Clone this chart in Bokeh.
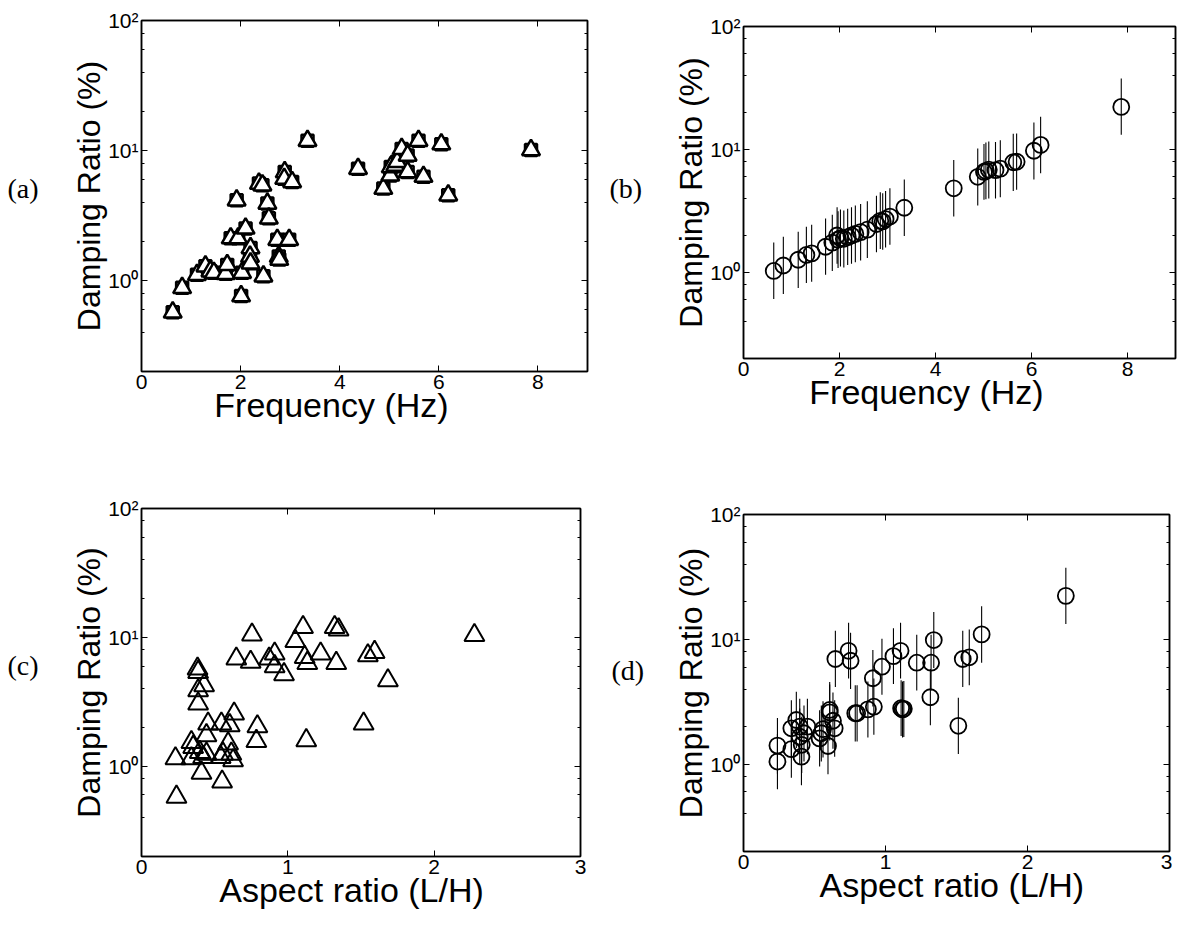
from bokeh.plotting import figure
from bokeh.models import (LinearAxis, LogAxis, FixedTicker, LogTicker,
                          CustomJSTickFormatter, Label, Range1d)
from bokeh.layouts import row, column
from bokeh.embed import file_html
from bokeh.resources import INLINE

# ---------------- data ----------------
# (a) measured damping vs frequency
freq_a = [0.63, 0.82, 1.12, 1.29, 1.39, 1.46, 1.70, 1.73, 1.80, 1.92,
          1.95, 2.03, 2.01, 2.10, 2.20, 2.19, 2.20, 2.37, 2.44, 2.46,
          2.54, 2.57, 2.74, 2.77, 2.78, 2.89, 2.88, 2.98, 3.04, 3.35,
          4.37, 4.88, 5.02, 5.03, 5.12, 5.16, 5.25, 5.37, 5.37, 5.59,
          5.69, 6.05, 6.19, 7.86]
damp_a = [0.57, 0.88, 1.11, 1.29, 1.18, 1.15, 1.13, 1.32, 2.12, 4.15,
          2.12, 1.15, 0.76, 2.52, 1.78, 1.53, 1.36, 5.57, 5.41, 1.08,
          3.92, 3.01, 2.06, 1.53, 1.45, 6.83, 6.08, 2.06, 5.73, 11.9,
          7.25, 5.10, 6.44, 7.46, 7.68, 8.2, 10.3, 9.16, 6.83, 11.9,
          6.3, 11.2, 4.53, 10.1]

# (b) fitted damping vs frequency with error bars
freq_b = [0.63, 0.83, 1.14, 1.31, 1.42, 1.71, 1.85, 1.95, 1.97, 2.02,
          2.09, 2.17, 2.25, 2.33, 2.44, 2.58, 2.77, 2.85, 2.90, 2.96,
          3.05, 3.35, 4.38, 4.88, 5.01, 5.05, 5.11, 5.25, 5.35, 5.62,
          5.69, 6.05, 6.19, 7.87]
damp_b = [1.03, 1.14, 1.27, 1.39, 1.43, 1.62, 1.75, 2.00, 1.85, 1.90,
          1.88, 1.94, 2.00, 2.06, 2.13, 2.23, 2.48, 2.63, 2.60, 2.72,
          2.85, 3.36, 4.84, 6.00, 6.57, 6.70, 6.85, 6.80, 6.98, 7.88,
          7.95, 9.77, 10.9, 22.2]
lo_b = [0.61, 0.67, 0.75, 0.82, 0.84, 0.96, 1.03, 1.18, 1.09, 1.12,
        1.10, 1.15, 1.18, 1.21, 1.25, 1.31, 1.46, 1.55, 1.53, 1.60,
        1.68, 1.98, 2.85, 3.50, 3.90, 3.95, 4.00, 4.00, 4.10, 4.60,
        4.70, 5.70, 6.40, 13.2]
hi_b = [1.75, 1.95, 2.15, 2.35, 2.45, 2.75, 2.95, 3.40, 3.15, 3.25,
        3.20, 3.30, 3.40, 3.50, 3.60, 3.80, 4.20, 4.50, 4.40, 4.60,
        4.85, 5.70, 8.20, 10.2, 11.1, 11.4, 11.6, 11.5, 11.9, 13.4,
        13.5, 16.6, 18.5, 37.8]

# (c) measured damping vs aspect ratio
ar_c = [0.239, 0.232, 0.341, 0.341, 0.353, 0.387, 0.383, 0.387, 0.428, 0.387,
        0.398, 0.41, 0.444, 0.455, 0.444, 0.421, 0.546, 0.541, 0.551, 0.557,
        0.592, 0.603, 0.633, 0.614, 0.626, 0.648, 0.746, 0.755, 0.792, 0.785,
        0.872, 0.91, 0.91, 0.974, 1.051, 1.104, 1.115, 1.133, 1.126, 1.224,
        1.32, 1.347, 1.331, 1.547, 1.593, 1.684, 1.518, 2.275]
damp_c = [0.58, 1.15, 1.54, 1.15, 1.41, 5.38, 5.71, 3.88, 4.25, 3.06,
          1.29, 0.89, 1.74, 2.14, 1.25, 1.18, 2.14, 1.18, 0.76, 1.25,
          1.50, 2.08, 2.56, 1.25, 1.11, 6.84, 6.44, 10.5, 2.04, 1.57,
          6.84, 7.48, 5.96, 5.17, 9.36, 12.0, 7.03, 6.32, 1.59, 7.48,
          12.0, 11.5, 6.32, 7.25, 7.69, 4.64, 2.14, 10.4]

# (d) fitted damping vs aspect ratio with error bars
ar_d = [0.239, 0.239, 0.337, 0.337, 0.372, 0.396, 0.396, 0.408, 0.41, 0.426,
        0.45, 0.536, 0.548, 0.56, 0.595, 0.607, 0.607, 0.63, 0.642, 0.647,
        0.74, 0.754, 0.787, 0.80, 0.876, 0.918, 0.911, 0.975, 1.056, 1.106,
        1.11, 1.129, 1.12, 1.22, 1.321, 1.316, 1.34, 1.513, 1.544, 1.59,
        1.677, 2.27]
damp_d = [1.05, 1.41, 1.32, 1.94, 2.26, 2.0, 1.66, 1.15, 1.43, 1.77,
          2.0, 1.61, 1.77, 1.91, 1.40, 2.72, 2.6, 2.23, 1.94, 6.96,
          8.1, 6.74, 2.56, 2.56, 2.75, 2.89, 4.88, 6.04, 7.34, 8.1,
          2.81, 2.78, 2.75, 6.5, 6.5, 3.44, 9.87, 2.03, 6.96, 7.18,
          10.96, 22.3]
lo_d = [0.63, 0.84, 0.78, 1.15, 1.35, 1.2, 1.0, 0.68, 0.85, 1.05,
        1.2, 0.96, 1.05, 1.13, 0.83, 1.62, 1.55, 1.33, 1.15, 4.15,
        4.85, 4.0, 1.52, 1.52, 1.64, 1.72, 2.9, 3.6, 4.4, 4.85,
        1.68, 1.65, 1.64, 3.9, 3.9, 2.05, 5.9, 1.21, 4.15, 4.3,
        6.5, 13.3]
hi_d = [1.75, 2.35, 2.2, 3.25, 3.8, 3.35, 2.8, 1.95, 2.4, 2.95,
        3.35, 2.7, 2.95, 3.2, 2.35, 4.55, 4.35, 3.75, 3.25, 11.7,
        13.6, 11.3, 4.3, 4.3, 4.6, 4.85, 8.2, 10.1, 12.3, 13.6,
        4.7, 4.65, 4.6, 10.9, 10.9, 5.8, 16.6, 3.4, 11.7, 12.0,
        18.4, 37.4]

freq_ticks = [0, 2, 4, 6, 8]
ar_ticks = [0, 1, 2, 3]
freq_label = "Frequency (Hz)"
ar_label = "Aspect ratio (L/H)"
y_label = "Damping Ratio (%)"
tags = ["(a)", "(b)", "(c)", "(d)"]

SANS = "Liberation Sans"
SERIF = "Liberation Serif"
NBSP = "\u00a0"

pow_fmt = CustomJSTickFormatter(code="""
const sup = {"-1":"\u207b\u00b9","0":"\u2070","1":"\u00b9","2":"\u00b2","3":"\u00b3"};
const e = Math.round(Math.log10(tick));
return "10" + sup[String(e)];
""")
blank_fmt = CustomJSTickFormatter(code="return '';")


def make_fig(w, h, xr, xticks, xlabel, bl, br, bt, bb):
    p = figure(width=w, height=h, x_range=Range1d(*xr), y_range=Range1d(0.2, 100),
               y_axis_type="log", output_backend="svg", toolbar_location=None,
               min_border_left=bl, min_border_right=br,
               min_border_top=bt, min_border_bottom=bb)
    p.grid.visible = False
    p.outline_line_color = "black"
    p.outline_line_width = 1.5
    p.background_fill_color = "white"
    p.border_fill_color = "white"

    xa = p.xaxis[0]
    xa.ticker = FixedTicker(ticks=xticks)
    xa.axis_label = xlabel
    ya = p.yaxis[0]
    ya.ticker = LogTicker()
    ya.formatter = pow_fmt
    ya.axis_label = y_label
    for ax in (xa, ya):
        ax.axis_label_text_font = SANS
        ax.axis_label_text_font_style = "normal"
        ax.axis_label_text_color = "black"
        ax.major_label_text_font = SANS
        ax.major_label_text_font_size = "21px"
        ax.major_label_text_color = "black"
        ax.major_label_standoff = 3
        ax.axis_line_width = 1.5
        ax.axis_line_color = "black"
        ax.major_tick_in = 6
        ax.major_tick_out = 0
        ax.minor_tick_in = 3
        ax.minor_tick_out = 0
        ax.major_tick_line_color = "black"
        ax.minor_tick_line_color = "black"
    xa.axis_label_text_font_size = "34px"
    ya.axis_label_text_font_size = "32px"
    xa.axis_label_standoff = -6
    ya.axis_label_standoff = -2
    xa.minor_tick_line_color = None

    top = LinearAxis(ticker=FixedTicker(ticks=xticks), formatter=blank_fmt,
                     major_label_text_font_size="0px", major_label_standoff=0,
                     major_tick_in=6, major_tick_out=0, minor_tick_line_color=None,
                     axis_line_width=1.5, axis_line_color="black")
    p.add_layout(top, "above")
    right = LogAxis(ticker=LogTicker(), formatter=blank_fmt,
                    major_label_text_font_size="0px", major_label_standoff=0,
                    major_tick_in=6, major_tick_out=0, minor_tick_in=3, minor_tick_out=0,
                    axis_line_width=1.5, axis_line_color="black")
    p.add_layout(right, "right")
    return p


def make_tag(w, h, text, sx, sy):
    t = figure(width=w, height=h, output_backend="svg", toolbar_location=None,
               x_axis_location=None, y_axis_location=None,
               min_border_left=0, min_border_right=0, min_border_top=0, min_border_bottom=0,
               x_range=Range1d(0, 1), y_range=Range1d(0, 1))
    t.grid.visible = False
    t.outline_line_color = None
    t.background_fill_color = "white"
    t.border_fill_color = "white"
    t.add_layout(Label(x=sx, y=sy, x_units="screen", y_units="screen", text=text,
                       text_font=SERIF, text_font_size="28px", text_color="black",
                       text_align="left", text_baseline="middle"))
    return t


# (a)
pa = make_fig(560, 460, (0, 9), freq_ticks, freq_label + NBSP * 7, 101, 13, 20, 89)
pa.scatter(freq_a, damp_a, marker="square", size=12, line_width=2.5,
           line_color="black", fill_color="white")
pa.scatter(freq_a, damp_a, marker="triangle", size=18, line_width=2.5,
           line_color="black", fill_color="white")

# (b)
pb = make_fig(533, 460, (0, 9), freq_ticks, freq_label + NBSP * 7, 98, 3, 26, 102)
pb.segment(x0=freq_b, y0=lo_b, x1=freq_b, y1=hi_b, line_color="black", line_width=1.1)
pb.scatter(freq_b, damp_b, marker="circle", size=16, line_width=1.8,
           line_color="black", fill_color=None)

# (c)
pc = make_fig(553, 468, (0, 3), ar_ticks, ar_label + NBSP * 2, 101, 13, 48, 72)
pc.scatter(ar_c, damp_c, marker="triangle", size=20, line_width=2,
           line_color="black", fill_color=None)

# (d)
pd = make_fig(527, 468, (0, 3), ar_ticks, ar_label + NBSP, 98, 3, 54, 77)
pd.segment(x0=ar_d, y0=lo_d, x1=ar_d, y1=hi_d, line_color="black", line_width=1.1)
pd.scatter(ar_d, damp_d, marker="circle", size=16, line_width=1.8,
           line_color="black", fill_color=None)

ta = make_tag(40, 460, tags[0], 7, 272)
tc = make_tag(40, 468, tags[2], 7, 263)
tb = make_tag(45, 460, tags[1], 9, 272)
td = make_tag(45, 468, tags[3], 11, 258)

layout = row(column(ta, tc), column(pa, pc), column(tb, td), column(pb, pd))

with open("out.html", "w") as f:
    f.write(file_html(layout, INLINE))
